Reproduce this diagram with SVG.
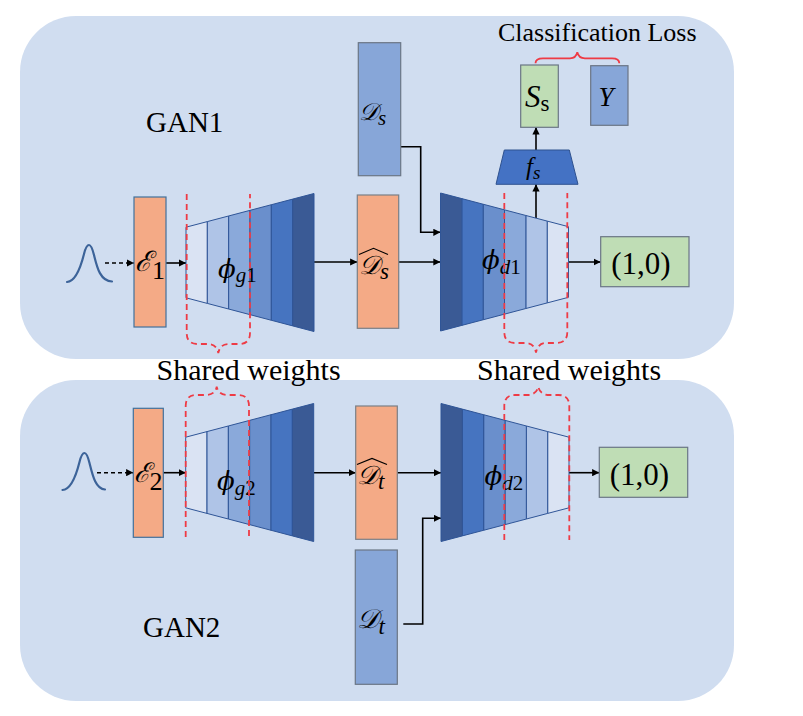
<svg xmlns="http://www.w3.org/2000/svg" width="803" height="716" viewBox="0 0 803 716">
<style>
.panel{fill:#D0DDF0}
.salmon{fill:#F4AA86;stroke:#7A7F86;stroke-width:1.2}
.enc{fill:#F4AA86;stroke:#41719C;stroke-width:1.2}
.blue{fill:#87A6D8;stroke:#6B7685;stroke-width:1.2}
.green{fill:#BFDDB5;stroke:#6B7685;stroke-width:1.2}
.seg{stroke:#2F5597;stroke-width:1}
.conn{fill:none;stroke:#000;stroke-width:1.6}
.dash{fill:none;stroke:#000;stroke-width:1.6;stroke-dasharray:4 3}
.red{fill:none;stroke:#EE3B45;stroke-width:1.8;stroke-dasharray:6 4}
.redsolid{fill:none;stroke:#EE3B45;stroke-width:1.8}
.lbl{font-family:"Liberation Serif","Times New Roman",serif;fill:#000}
.math{font-family:"Liberation Serif","DejaVu Serif",serif;font-style:italic;fill:#000}
.phi{font-family:"DejaVu Serif",serif;font-style:italic;fill:#000}
.sub{font-family:"Liberation Serif","DejaVu Serif",serif}
.up{font-style:normal}
.curve{fill:none;stroke:#3C6399;stroke-width:2.2;stroke-linecap:round}
.hat{fill:none;stroke:#000;stroke-width:1.2}
</style>
<defs>
<marker id="ah" viewBox="0 0 10 10" refX="10" refY="5" markerWidth="4.5" markerHeight="4.5" orient="auto" markerUnits="strokeWidth">
<path d="M0,0 L10,5 L0,10 z" fill="#000"/>
</marker>
<g id="trap">
<polygon class="seg" fill="#DAE3F3" points="0,-35.3 21.33,-40.92 21.33,40.92 0,35.3"/>
<polygon class="seg" fill="#AFC4E7" points="21.33,-40.92 42.67,-46.53 42.67,46.53 21.33,40.92"/>
<polygon class="seg" fill="#8AA9DA" points="42.67,-46.53 64,-52.15 64,52.15 42.67,46.53"/>
<polygon class="seg" fill="#6A8FCC" points="64,-52.15 85.33,-57.77 85.33,57.77 64,52.15"/>
<polygon class="seg" fill="#4674C0" points="85.33,-57.77 106.67,-63.38 106.67,63.38 85.33,57.77"/>
<polygon class="seg" fill="#3A5A95" points="106.67,-63.38 128,-69 128,69 106.67,63.38"/>
</g>
</defs>

<g id="panel-gan1"><rect class="panel" x="20" y="16" width="714" height="343" rx="56"/></g>
<g id="panel-gan2"><rect class="panel" x="20" y="380" width="714" height="321" rx="56"/></g>

<g id="titles">
<text class="lbl" x="146" y="132" font-size="29">GAN1</text>
<text class="lbl" x="143" y="637" font-size="29">GAN2</text>
<text class="lbl" x="156.5" y="380" font-size="30">Shared weights</text>
<text class="lbl" x="477" y="380" font-size="30">Shared weights</text>
<text class="lbl" x="498" y="40.5" font-size="26">Classification Loss</text>
</g>

<g id="connectors">
<path class="dash" d="M105,263 H134" marker-end="url(#ah)"/>
<path class="conn" d="M166,263 H186" marker-end="url(#ah)"/>
<path class="conn" d="M314,262 H357.3" marker-end="url(#ah)"/>
<path class="conn" d="M398.7,262 H440.5" marker-end="url(#ah)"/>
<path class="conn" d="M400.7,146.7 H420.7 V232.3 H440.5" marker-end="url(#ah)"/>
<path class="conn" d="M568.5,262 H600.7" marker-end="url(#ah)"/>
<path class="conn" d="M536,218 V184.3" marker-end="url(#ah)"/>
<path class="conn" d="M536,150 V127.3" marker-end="url(#ah)"/>
<path class="dash" d="M97,472.7 H133.3" marker-end="url(#ah)"/>
<path class="conn" d="M163.3,472.7 H185.7" marker-end="url(#ah)"/>
<path class="conn" d="M313.7,472.7 H355.7" marker-end="url(#ah)"/>
<path class="conn" d="M397.3,472.7 H441" marker-end="url(#ah)"/>
<path class="conn" d="M403.3,624 H422.7 V518.3 H441" marker-end="url(#ah)"/>
<path class="conn" d="M569,472.7 H599.3" marker-end="url(#ah)"/>
</g>

<g id="noise1"><path class="curve" d="M67,282 C76,281.5 81,266 84,254 C86,246 88,245 89,245 C90.5,245 92,247 94,255 C97,267 100,281 112,281.5"/></g>
<g id="noise2"><path class="curve" d="M62.5,490 C71.5,489.5 76.5,474 79.5,462 C81.5,454 83.5,453 84.5,453 C86,453 87.5,455 89.5,463 C92.5,475 95.5,489 105,489.5"/></g>

<g id="enc1">
<rect class="enc" x="134" y="197" width="32" height="130"/>
<text class="math" x="135" y="271" font-size="28">ℰ<tspan class="up" font-size="26" dy="8">1</tspan></text>
</g>
<g id="enc2">
<rect class="enc" x="133.3" y="408.3" width="30" height="129"/>
<text class="math" x="133.5" y="482" font-size="27">ℰ<tspan class="up" font-size="26" dy="8">2</tspan></text>
</g>

<g id="gen1">
<use href="#trap" transform="translate(186,262.5)"/>
<text class="phi" x="218" y="278" font-size="26">ϕ<tspan class="sub" font-size="21" dy="4">g</tspan><tspan class="sub up" font-size="21">1</tspan></text>
</g>
<g id="gen2">
<use href="#trap" transform="translate(185.7,472.5)"/>
<text class="phi" x="217" y="490" font-size="26">ϕ<tspan class="sub" font-size="21" dy="5">g</tspan><tspan class="sub up" font-size="21">2</tspan></text>
</g>
<g id="disc1">
<use href="#trap" transform="translate(568.5,262) scale(-1,1)"/>
<text class="phi" x="482" y="269" font-size="26">ϕ<tspan class="sub" font-size="21" dy="5">d</tspan><tspan class="sub up" font-size="21">1</tspan></text>
</g>
<g id="disc2">
<use href="#trap" transform="translate(569,472.5) scale(-1,1)"/>
<text class="phi" x="484.5" y="485" font-size="26">ϕ<tspan class="sub" font-size="21" dy="5">d</tspan><tspan class="sub up" font-size="21">2</tspan></text>
</g>

<g id="data-s">
<rect class="blue" x="358.3" y="42.7" width="42.4" height="133"/>
<text class="math" x="359" y="120" font-size="24">𝒟<tspan font-size="21" dy="5">s</tspan></text>
</g>
<g id="fake-s">
<rect class="salmon" x="357.3" y="195" width="41.4" height="133.3"/>
<path class="hat" d="M359,254.5 L373.5,248.3 L388,254.5"/>
<text class="math" x="359" y="274" font-size="26">𝒟<tspan font-size="23" dy="5">s</tspan></text>
</g>
<g id="fake-t">
<rect class="salmon" x="355.7" y="406" width="41.6" height="133.3"/>
<path class="hat" d="M357,464.5 L372,458.5 L387,464.5"/>
<text class="math" x="357" y="484" font-size="26">𝒟<tspan font-size="23" dy="5">t</tspan></text>
</g>
<g id="data-t">
<rect class="blue" x="355.3" y="550" width="42" height="134.3"/>
<text class="math" x="356.5" y="627.5" font-size="27">𝒟<tspan font-size="23" dy="6">t</tspan></text>
</g>

<g id="classifier">
<polygon points="504.3,150 569.3,150 578,184.3 496,184.3" fill="#4472C4" stroke="#2F528F" stroke-width="1"/>
<text class="math" x="526" y="175" font-size="25">f<tspan font-size="19" dy="4">s</tspan></text>
</g>
<g id="score-s">
<rect class="green" x="520.7" y="65" width="37.6" height="62.3"/>
<text class="math" x="525" y="107" font-size="31">S<tspan class="up" font-size="23" dy="4">s</tspan></text>
</g>
<g id="label-y">
<rect class="blue" x="590.7" y="65.7" width="37.3" height="59.6"/>
<text class="math" x="598.5" y="106" font-size="27">Y</text>
</g>
<g id="out1">
<rect class="green" x="600.7" y="236.7" width="88.3" height="50"/>
<text class="lbl" x="641" y="273.5" font-size="31" text-anchor="middle">(1,0)</text>
</g>
<g id="out2">
<rect class="green" x="599.3" y="447.3" width="88.4" height="50"/>
<text class="lbl" x="639.5" y="485" font-size="31" text-anchor="middle">(1,0)</text>
</g>

<g id="shared-weights">
<path class="red" d="M186.7,194 V333 Q186.7,344 197.5,344 H208 Q216.5,344 218.3,353 Q220.1,344 228.6,344 H239 Q250,344 250,333 V194"/>
<path class="red" d="M504.3,193 V332 Q504.3,343 515,343 H526 Q534.2,343 536,352.7 Q537.8,343 546,343 H556.5 Q567.3,343 567.3,332 V193"/>
<path class="red" d="M185.7,537 V406 Q185.7,395 196.5,395 H206 Q214.9,395 216.7,386.7 Q218.5,395 227.4,395 H238 Q249,395 249,406 V537"/>
<path class="red" d="M504.3,540 V406 Q504.3,395 515,395 H527 Q536.5,395 538.3,386.7 Q540.1,395 549.6,395 H558.5 Q569.3,395 569.3,406 V540"/>
<path class="redsolid" d="M535.5,63.3 Q535.5,58.3 543,58.3 H570 Q576,58.3 577.3,52.3 Q578.6,58.3 585,58.3 H612 Q619.3,58.3 619.3,63.3"/>
</g>
</svg>
